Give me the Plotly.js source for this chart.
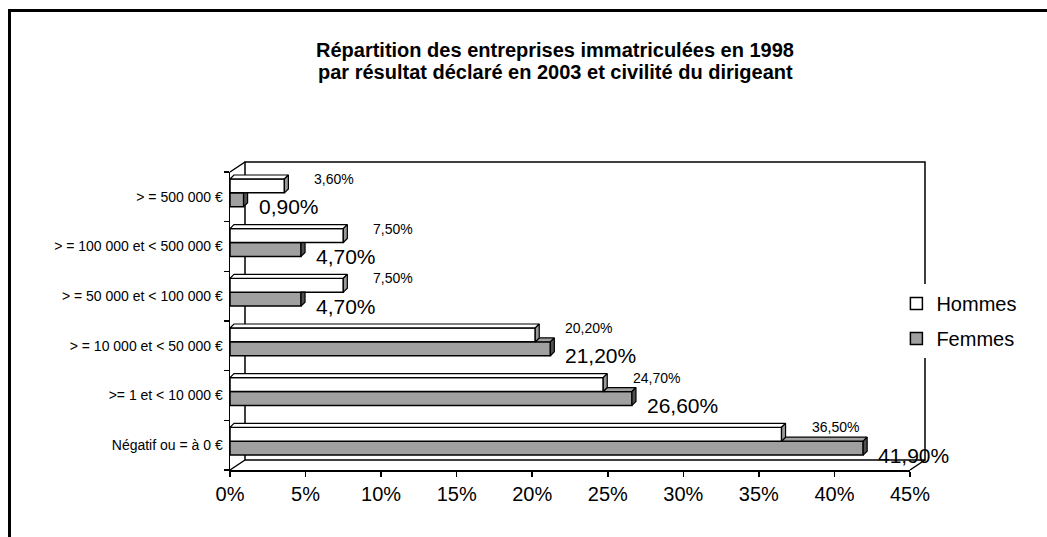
<!DOCTYPE html>
<html>
<head>
<meta charset="utf-8">
<script src="https://cdn.plot.ly/plotly-3.0.1.min.js"></script>
<style>
  body { margin: 0; background: #fff; }
  #plot { position: absolute; left: 0; top: 0; width: 1047px; height: 537px; }
  #frame { position: absolute; left: 8px; top: 9px; width: 1100px; height: 600px;
           border-top: 3px solid #000; border-left: 3px solid #000; pointer-events: none; }
</style>
</head>
<body>
<div id="plot"></div>
<div id="frame"></div>
<script>
// categories, bottom to top
var categories = [
  "Négatif ou = à 0 €",
  ">= 1 et < 10 000 €",
  "> = 10 000 et < 50 000 €",
  "> = 50 000 et < 100 000 €",
  "> = 100 000 et < 500 000 €",
  "> = 500 000 €"
];
var hommes = [36.5, 24.7, 20.2, 7.5, 7.5, 3.6];
var femmes = [41.9, 26.6, 21.2, 4.7, 4.7, 0.9];
var xTicks = [0, 5, 10, 15, 20, 25, 30, 35, 40, 45];
var titleLines = [
  "Répartition des entreprises immatriculées en 1998",
  "par résultat déclaré en 2003 et civilité du dirigeant"
];

var font = "Arial, 'Liberation Sans', sans-serif";
var pos = categories.map(function (c, i) { return i; });

// bar geometry (category units) and 3d depth
var w = 0.28, offH = 0.08, offF = -0.20;
var dx = 0.265, dy = 0.08;

function lbl(v) { return v.toFixed(2).replace(".", ",") + "%"; }

var Femmes = {
  type: "bar", orientation: "h", name: "Femmes",
  x: femmes, y: pos, width: w, offset: offF,
  marker: { color: "#a0a0a0", line: { color: "#000", width: 1.5 } },
  legendrank: 2, legendgroup: "f", hoverinfo: "skip"
};
var Hommes = {
  type: "bar", orientation: "h", name: "Hommes",
  x: hommes, y: pos, width: w, offset: offH,
  marker: { color: "#ffffff", line: { color: "#000", width: 1.5 } },
  legendrank: 1, legendgroup: "h", hoverinfo: "skip"
};

// 3d faces built from the values
function poly(list) {
  var xs = [], ys = [];
  list.forEach(function (p) {
    p.forEach(function (q) { xs.push(q[0]); ys.push(q[1]); });
    xs.push(null); ys.push(null);
  });
  return { x: xs, y: ys };
}
var hTop = [], hSide = [], fTop = [], fSide = [];
pos.forEach(function (i) {
  var h = hommes[i], f = femmes[i];
  var h0 = i + offH, h1 = h0 + w, f0 = i + offF, f1 = f0 + w;
  hTop.push([[0, h1], [dx, h1 + dy], [h + dx, h1 + dy], [h, h1], [0, h1]]);
  hSide.push([[h, h0], [h + dx, h0 + dy], [h + dx, h1 + dy], [h, h1], [h, h0]]);
  if (f > h) {
    fTop.push([[h, f1], [h + dx, f1 + dy], [f + dx, f1 + dy], [f, f1], [h, f1]]);
    fSide.push([[f, f0], [f + dx, f0 + dy], [f + dx, f1 + dy], [f, f1], [f, f0]]);
  } else {
    fSide.push([[f, f0], [f + dx, f0 + dy], [f + dx, f1], [f, f1], [f, f0]]);
  }
});
function face(p, color) {
  var d = poly(p);
  return { type: "scatter", mode: "lines", x: d.x, y: d.y, fill: "toself",
           fillcolor: color, line: { color: "#000", width: 1.2 },
           showlegend: false, hoverinfo: "skip" };
}

var data = [Femmes, Hommes,
  face(fTop, "#a0a0a0"), face(fSide, "#505050"),
  face(hTop, "#ffffff"), face(hSide, "#9a9a9a")];

var annotations = [];
pos.forEach(function (i) {
  annotations.push({ x: hommes[i], y: i + 0.36, xref: "x", yref: "y", text: lbl(hommes[i]),
    showarrow: false, xanchor: "left", yanchor: "middle", xshift: 28,
    font: { family: font, size: 14, color: "#000" } });
  annotations.push({ x: femmes[i], y: i - 0.2, xref: "x", yref: "y", text: lbl(femmes[i]),
    showarrow: false, xanchor: "left", yanchor: "middle", xshift: 13,
    font: { family: font, size: 21, color: "#000" } });
});
// two title lines, 22px apart
titleLines.forEach(function (t, k) {
  annotations.push({ x: (555 - 230) / 680, y: (470 - 50 - 22 * k) / 298, xref: "paper", yref: "paper",
    text: "<b>" + t + "</b>", showarrow: false, xanchor: "center", yanchor: "middle",
    font: { family: font, size: 20, color: "#000" } });
});

// back wall of the 3d box (paper units: 15px and 10px depth)
var px = 15 / 680, py = 10 / 298;
var ln = { color: "#000", width: 1.5 };
var shapes = [
  { type: "rect", xref: "paper", yref: "paper", x0: px, x1: 1 + px, y0: py, y1: 1 + py, line: ln, layer: "below" },
  { type: "line", xref: "paper", yref: "paper", x0: 0, y0: 0, x1: px, y1: py, line: ln },
  { type: "line", xref: "paper", yref: "paper", x0: 0, y0: 1, x1: px, y1: 1 + py, line: ln },
  { type: "line", xref: "paper", yref: "paper", x0: 1, y0: 0, x1: 1 + px, y1: py, line: ln }
];

var layout = {
  width: 1047, height: 537,
  margin: { l: 230, r: 137, t: 172, b: 67 },
  paper_bgcolor: "#fff", plot_bgcolor: "rgba(0,0,0,0)",
  barmode: "overlay",
  font: { family: font, color: "#000" },
  xaxis: {
    range: [0, 45], tickvals: xTicks, ticktext: xTicks.map(function (t) { return t + "%"; }),
    showline: true, linecolor: "#000", linewidth: 1.5,
    ticks: "outside", ticklen: 5, tickcolor: "#000", tickwidth: 1.5,
    showgrid: false, zeroline: false,
    tickfont: { family: font, size: 20, color: "#000" }
  },
  yaxis: {
    range: [-0.5, 5.5], tickvals: pos, ticktext: categories,
    showline: true, linecolor: "#000", linewidth: 1.5,
    ticks: "", ticklabelstandoff: 3,
    minor: { tick0: -0.5, dtick: 1, ticks: "outside", ticklen: 5, tickcolor: "#000", tickwidth: 1.5 },
    showgrid: false, zeroline: false,
    tickfont: { family: font, size: 14, color: "#000" }
  },
  legend: {
    x: 0.98, y: 0.5, xanchor: "left", yanchor: "middle",
    bgcolor: "#fff", tracegroupgap: 6,
    font: { family: font, size: 20, color: "#000" }
  },
  showlegend: true,
  shapes: shapes,
  annotations: annotations
};

Plotly.newPlot("plot", data, layout, { displayModeBar: false, staticPlot: true });
</script>
</body>
</html>
